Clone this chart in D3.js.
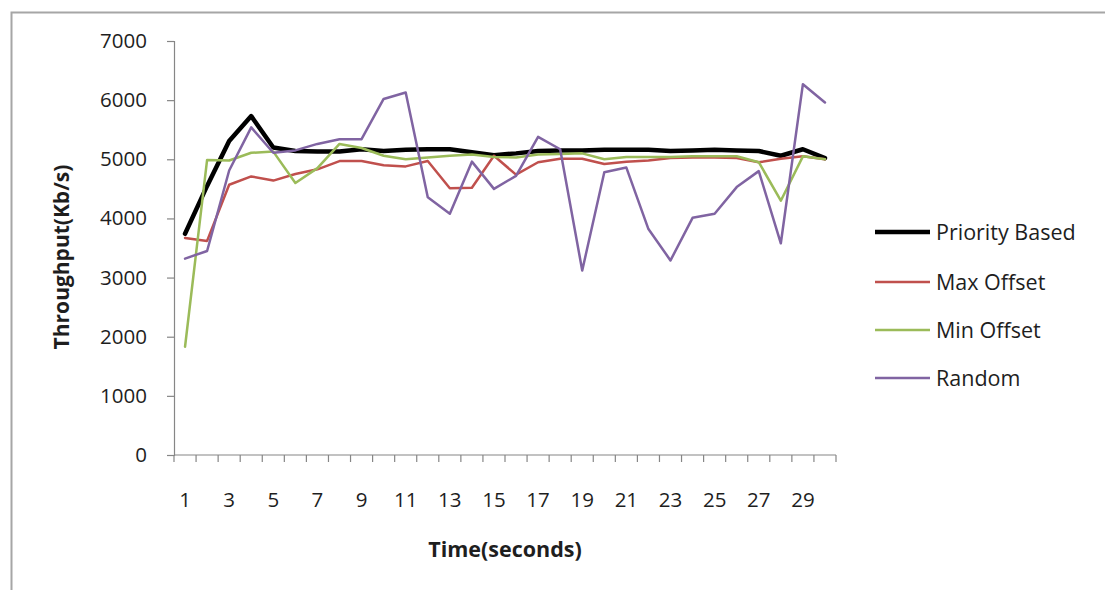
<!DOCTYPE html>
<html>
<head>
<meta charset="utf-8">
<script src="https://cdn.jsdelivr.net/npm/d3@7/dist/d3.min.js"></script>
<style>
  html, body { margin: 0; padding: 0; background: #fff; }
  svg { display: block; }
  text { font-family: "Open Sans", Lato, sans-serif; fill: #1e1e1e; }
</style>
</head>
<body>
<svg id="chart" width="1105" height="590"></svg>
<script>
// Time axis categories (seconds)
const times = d3.range(1, 31);
const timeTickLabels = [1, 3, 5, 7, 9, 11, 13, 15, 17, 19, 21, 23, 25, 27, 29];
const throughputTicks = [0, 1000, 2000, 3000, 4000, 5000, 6000, 7000];

// Throughput (Kb/s) per scheduling scheme
const priorityBased = [3740, 4550, 5310, 5730, 5200, 5140, 5130, 5130, 5170, 5140,
                       5160, 5170, 5170, 5120, 5070, 5100, 5140, 5150, 5150, 5160,
                       5160, 5160, 5140, 5150, 5160, 5150, 5140, 5060, 5170, 5020];
const maxOffset = [3670, 3620, 4570, 4710, 4640, 4750, 4830, 4970, 4970, 4900,
                   4880, 4970, 4510, 4520, 5060, 4740, 4950, 5010, 5010, 4920,
                   4960, 4980, 5020, 5030, 5030, 5020, 4950, 5010, 5050, 5000];
const minOffset = [1830, 4990, 4980, 5110, 5130, 4600, 4850, 5260, 5190, 5060,
                   5000, 5030, 5060, 5080, 5040, 5030, 5080, 5090, 5100, 5000,
                   5040, 5040, 5040, 5050, 5050, 5050, 4950, 4300, 5050, 5000];
const randomSched = [3320, 3450, 4810, 5540, 5110, 5150, 5260, 5340, 5340, 6020,
                     6130, 4360, 4080, 4960, 4500, 4720, 5380, 5170, 3120, 4780,
                     4860, 3820, 3290, 4010, 4080, 4530, 4800, 3580, 6270, 5960];

const seriesNames = ["Priority Based", "Max Offset", "Min Offset", "Random"];
const seriesColors = ["#000000", "#c0504d", "#9bbb59", "#8064a2"];
const seriesWidths = [4.5, 2.5, 2.5, 2.5];
const seriesValues = [priorityBased, maxOffset, minOffset, randomSched];

const svg = d3.select("#chart");

// outer chart frame
svg.append("path")
  .attr("d", "M11.5,590 V12.5 H1105")
  .attr("fill", "none")
  .attr("stroke", "#a6a6a6")
  .attr("stroke-width", 2);

const plot = { left: 174, right: 836, top: 41, bottom: 455 };

const x = d3.scaleBand().domain(times).range([plot.left, plot.right]).padding(0);
const y = d3.scaleLinear().domain([0, 7000]).range([plot.bottom, plot.top]);
const cx = t => x(t) + x.bandwidth() / 2;

// y axis
const yAxis = svg.append("g")
  .attr("transform", `translate(${plot.left},0)`)
  .call(d3.axisLeft(y).tickValues(throughputTicks).tickSize(7).tickPadding(20).tickFormat(d3.format("d")));
yAxis.select(".domain").attr("stroke", "#868686").attr("stroke-width", 1.2);
yAxis.selectAll(".tick line").attr("stroke", "#868686").attr("stroke-width", 1.2);
yAxis.selectAll(".tick text").attr("font-size", 20.5).attr("font-family", "'Open Sans', sans-serif").attr("fill", "#1e1e1e");

// x axis line and category boundary ticks
const xAxisG = svg.append("g");
xAxisG.append("line")
  .attr("x1", plot.left).attr("x2", plot.right)
  .attr("y1", plot.bottom).attr("y2", plot.bottom)
  .attr("stroke", "#868686").attr("stroke-width", 1.2);
const boundaries = times.map(t => x(t)).concat([plot.right]);
xAxisG.selectAll("line.bt").data(boundaries).join("line")
  .attr("class", "bt")
  .attr("x1", d => d).attr("x2", d => d)
  .attr("y1", plot.bottom).attr("y2", plot.bottom + 7)
  .attr("stroke", "#868686").attr("stroke-width", 1.2);
xAxisG.selectAll("text.xl").data(timeTickLabels).join("text")
  .attr("class", "xl")
  .attr("x", d => cx(d))
  .attr("y", 507)
  .attr("text-anchor", "middle")
  .attr("font-size", 20.5)
  .text(d => d);

// axis titles
svg.append("text")
  .attr("x", 505).attr("y", 557)
  .attr("text-anchor", "middle")
  .attr("font-size", 21.5).attr("font-weight", "bold")
  .text("Time(seconds)");
svg.append("text")
  .attr("transform", "translate(69,257) rotate(-90)")
  .attr("text-anchor", "middle")
  .attr("font-size", 21).attr("font-weight", "bold")
  .text("Throughput(Kb/s)");

// series lines
const line = d3.line()
  .x((d, i) => cx(times[i]))
  .y(d => y(d));

seriesValues.forEach((vals, k) => {
  svg.append("path")
    .datum(vals)
    .attr("fill", "none")
    .attr("stroke", seriesColors[k])
    .attr("stroke-width", seriesWidths[k])
    .attr("stroke-linejoin", "round")
    .attr("stroke-linecap", "round")
    .attr("d", line);
});

// legend
const legendYs = [232, 282, 330, 378];
const legend = svg.append("g");
seriesNames.forEach((name, k) => {
  legend.append("line")
    .attr("x1", 875).attr("x2", 930)
    .attr("y1", legendYs[k]).attr("y2", legendYs[k])
    .attr("stroke", seriesColors[k])
    .attr("stroke-width", seriesWidths[k]);
  legend.append("text")
    .attr("x", 936).attr("y", legendYs[k])
    .attr("dy", "0.35em")
    .attr("font-size", 21.5)
    .text(name);
});
</script>
</body>
</html>
